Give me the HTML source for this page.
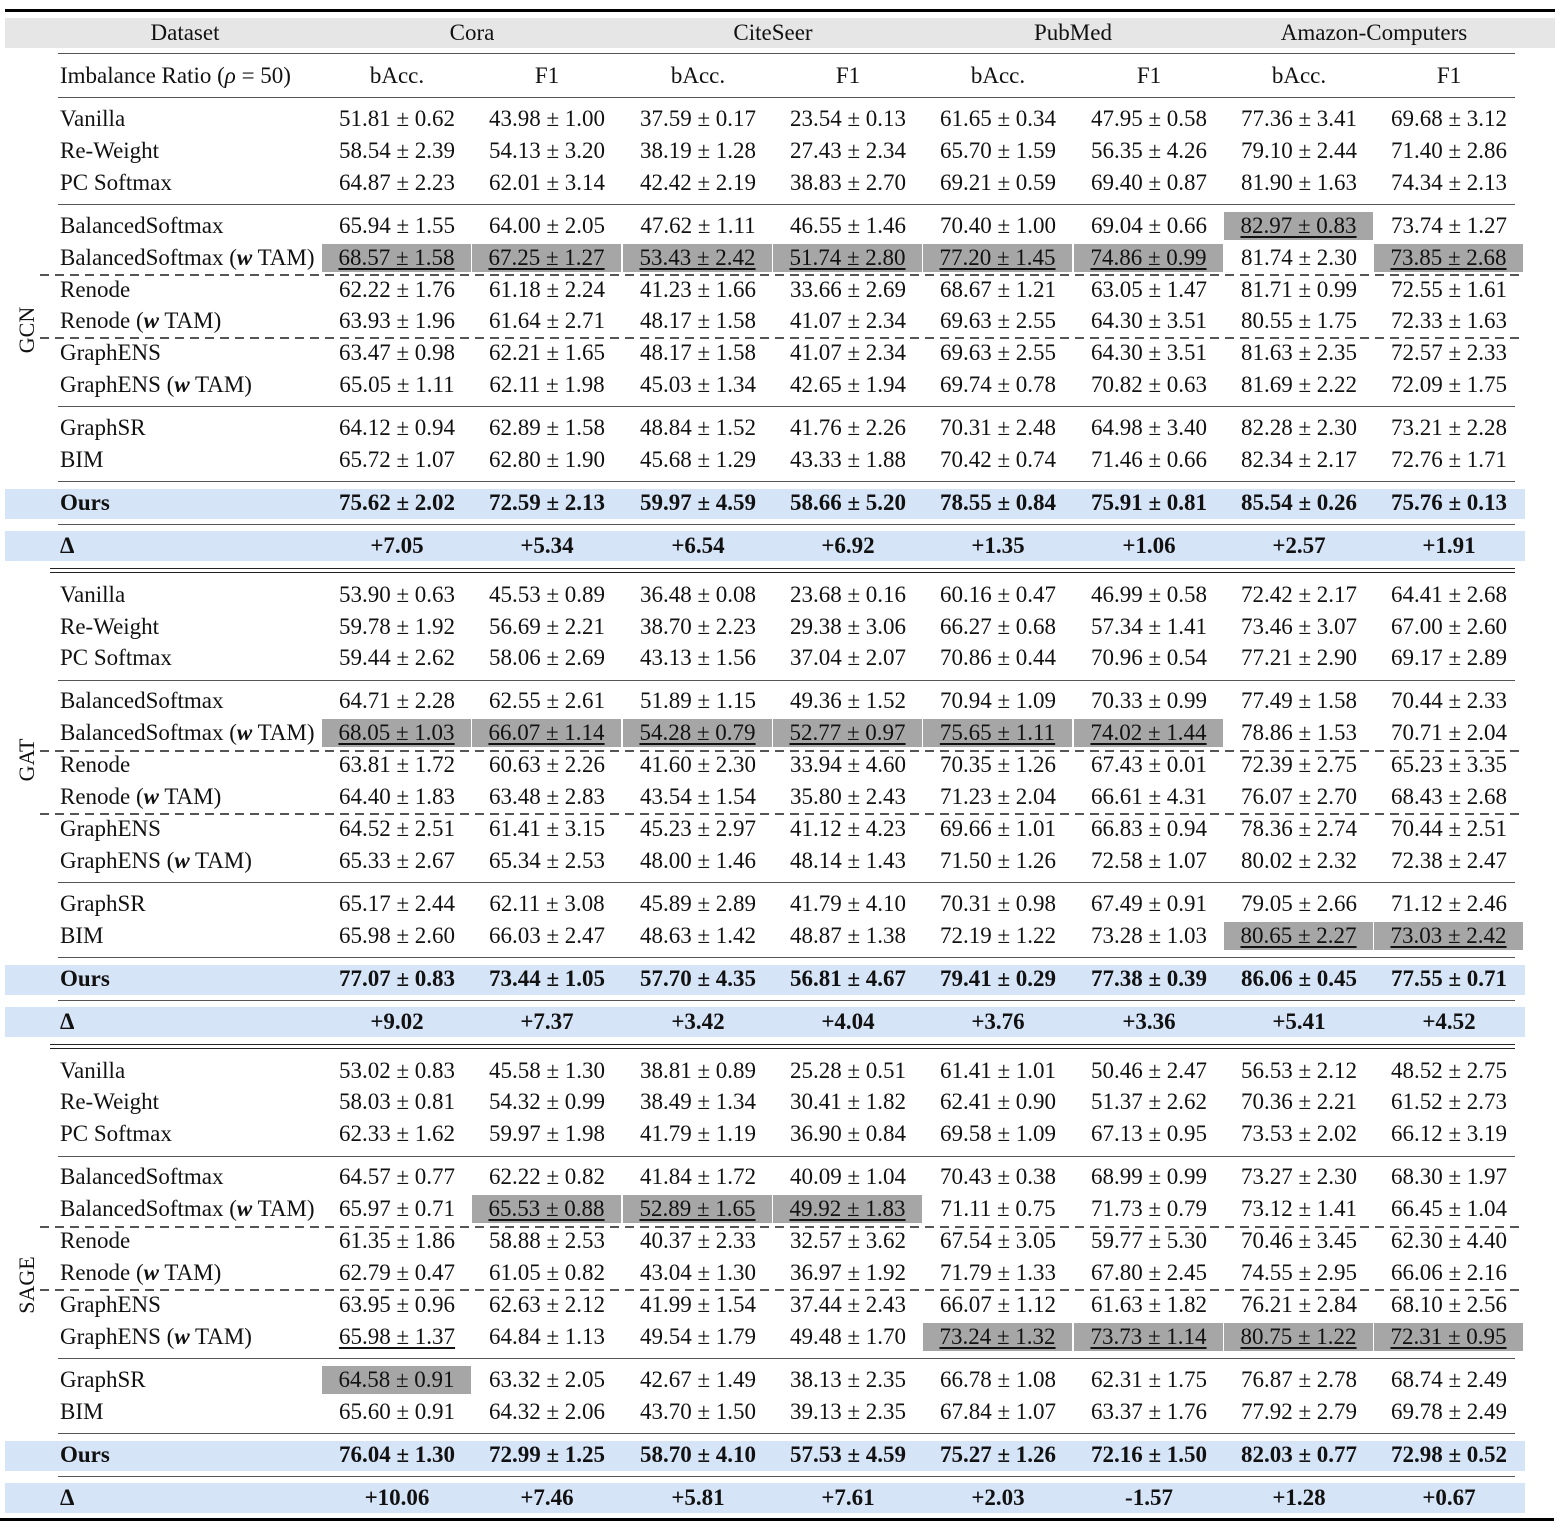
<!DOCTYPE html>
<html><head><meta charset="utf-8"><style>
body{margin:0;background:#fff;width:1564px;height:1532px;position:relative;overflow:hidden;font-family:"Liberation Serif",serif;font-size:23px;color:#111}
.r{position:absolute;left:0;width:1564px;height:32px;line-height:32px;white-space:nowrap}
.r span{position:absolute;top:0;width:150px;text-align:center}
.r span:nth-child(1){left:60px;width:auto;text-align:left}
.r span:nth-child(2){left:322px}.r span:nth-child(3){left:472px}.r span:nth-child(4){left:623px}.r span:nth-child(5){left:773px}
.r span:nth-child(6){left:923px}.r span:nth-child(7){left:1074px}.r span:nth-child(8){left:1224px}.r span:nth-child(9){left:1374px}
.r span.g{background:#a6a6a6;top:2px;height:28px;line-height:28px;width:149px;text-decoration:underline;text-underline-offset:3px}
.u{text-decoration:underline;text-underline-offset:3px}
.b{font-weight:bold}
.s{position:absolute;left:58px;width:1457px;border-top:1.5px solid #555}
.d{position:absolute;left:40px;width:1485px;height:1.5px;background:repeating-linear-gradient(90deg,#555 0 9px,transparent 9px 15px)}
.band{position:absolute;left:5px;width:1520px;height:30px;background:#d6e4f8}
.k{position:absolute;left:5px;width:1550px;height:3px;background:#000}
.k2{position:absolute;left:50px;width:1465px;border-top:1.5px solid #222}
.grp{position:absolute;left:27px;transform:translate(-50%,-50%) rotate(-90deg);font-size:22px}
.hd{position:absolute;text-align:center;width:300px}
</style></head><body>
<div class="k" style="top:9px"></div>
<div style="position:absolute;left:5px;top:18px;width:1550px;height:30px;background:#e6e6e6"></div>
<div class="r" style="top:17px"><span style="left:60px;width:250px;text-align:center">Dataset</span></div>
<div class="hd" style="left:322px;top:17px;line-height:32px">Cora</div>
<div class="hd" style="left:623px;top:17px;line-height:32px">CiteSeer</div>
<div class="hd" style="left:923px;top:17px;line-height:32px">PubMed</div>
<div class="hd" style="left:1224px;top:17px;line-height:32px">Amazon-Computers</div>
<div class="s" style="top:53px"></div>
<div class="r" style="top:60px"><span>Imbalance Ratio (<i>ρ</i> = 50)</span><span>bAcc.</span><span>F1</span><span>bAcc.</span><span>F1</span><span>bAcc.</span><span>F1</span><span>bAcc.</span><span>F1</span></div>
<div class="s" style="top:97px"></div>

<!-- GCN B=119 -->
<div class="grp" style="top:330px">GCN</div>
<div class="s" style="top:204px"></div><div class="d" style="top:274px"></div><div class="d" style="top:337px"></div><div class="s" style="top:406px"></div><div class="s" style="top:481px"></div>
<div class="band" style="top:489px"></div><div class="s" style="top:524px"></div><div class="band" style="top:531px"></div>
<div class="k2" style="top:568px"></div><div class="k2" style="top:572px"></div>
<div class="r" style="top:103px"><span>Vanilla</span><span>51.81 ± 0.62</span><span>43.98 ± 1.00</span><span>37.59 ± 0.17</span><span>23.54 ± 0.13</span><span>61.65 ± 0.34</span><span>47.95 ± 0.58</span><span>77.36 ± 3.41</span><span>69.68 ± 3.12</span></div>
<div class="r" style="top:135px"><span>Re-Weight</span><span>58.54 ± 2.39</span><span>54.13 ± 3.20</span><span>38.19 ± 1.28</span><span>27.43 ± 2.34</span><span>65.70 ± 1.59</span><span>56.35 ± 4.26</span><span>79.10 ± 2.44</span><span>71.40 ± 2.86</span></div>
<div class="r" style="top:167px"><span>PC Softmax</span><span>64.87 ± 2.23</span><span>62.01 ± 3.14</span><span>42.42 ± 2.19</span><span>38.83 ± 2.70</span><span>69.21 ± 0.59</span><span>69.40 ± 0.87</span><span>81.90 ± 1.63</span><span>74.34 ± 2.13</span></div>
<div class="r" style="top:210px"><span>BalancedSoftmax</span><span>65.94 ± 1.55</span><span>64.00 ± 2.05</span><span>47.62 ± 1.11</span><span>46.55 ± 1.46</span><span>70.40 ± 1.00</span><span>69.04 ± 0.66</span><span class="g">82.97 ± 0.83</span><span>73.74 ± 1.27</span></div>
<div class="r" style="top:242px"><span>BalancedSoftmax (<b><i>w</i></b> TAM)</span><span class="g">68.57 ± 1.58</span><span class="g">67.25 ± 1.27</span><span class="g">53.43 ± 2.42</span><span class="g">51.74 ± 2.80</span><span class="g">77.20 ± 1.45</span><span class="g">74.86 ± 0.99</span><span>81.74 ± 2.30</span><span class="g">73.85 ± 2.68</span></div>
<div class="r" style="top:274px"><span>Renode</span><span>62.22 ± 1.76</span><span>61.18 ± 2.24</span><span>41.23 ± 1.66</span><span>33.66 ± 2.69</span><span>68.67 ± 1.21</span><span>63.05 ± 1.47</span><span>81.71 ± 0.99</span><span>72.55 ± 1.61</span></div>
<div class="r" style="top:305px"><span>Renode (<b><i>w</i></b> TAM)</span><span>63.93 ± 1.96</span><span>61.64 ± 2.71</span><span>48.17 ± 1.58</span><span>41.07 ± 2.34</span><span>69.63 ± 2.55</span><span>64.30 ± 3.51</span><span>80.55 ± 1.75</span><span>72.33 ± 1.63</span></div>
<div class="r" style="top:337px"><span>GraphENS</span><span>63.47 ± 0.98</span><span>62.21 ± 1.65</span><span>48.17 ± 1.58</span><span>41.07 ± 2.34</span><span>69.63 ± 2.55</span><span>64.30 ± 3.51</span><span>81.63 ± 2.35</span><span>72.57 ± 2.33</span></div>
<div class="r" style="top:369px"><span>GraphENS (<b><i>w</i></b> TAM)</span><span>65.05 ± 1.11</span><span>62.11 ± 1.98</span><span>45.03 ± 1.34</span><span>42.65 ± 1.94</span><span>69.74 ± 0.78</span><span>70.82 ± 0.63</span><span>81.69 ± 2.22</span><span>72.09 ± 1.75</span></div>
<div class="r" style="top:412px"><span>GraphSR</span><span>64.12 ± 0.94</span><span>62.89 ± 1.58</span><span>48.84 ± 1.52</span><span>41.76 ± 2.26</span><span>70.31 ± 2.48</span><span>64.98 ± 3.40</span><span>82.28 ± 2.30</span><span>73.21 ± 2.28</span></div>
<div class="r" style="top:444px"><span>BIM</span><span>65.72 ± 1.07</span><span>62.80 ± 1.90</span><span>45.68 ± 1.29</span><span>43.33 ± 1.88</span><span>70.42 ± 0.74</span><span>71.46 ± 0.66</span><span>82.34 ± 2.17</span><span>72.76 ± 1.71</span></div>
<div class="r b" style="top:487px"><span>Ours</span><span>75.62 ± 2.02</span><span>72.59 ± 2.13</span><span>59.97 ± 4.59</span><span>58.66 ± 5.20</span><span>78.55 ± 0.84</span><span>75.91 ± 0.81</span><span>85.54 ± 0.26</span><span>75.76 ± 0.13</span></div>
<div class="r b" style="top:530px"><span>Δ</span><span>+7.05</span><span>+5.34</span><span>+6.54</span><span>+6.92</span><span>+1.35</span><span>+1.06</span><span>+2.57</span><span>+1.91</span></div>

<!-- GAT B=595 -->
<div class="grp" style="top:760px">GAT</div>
<div class="s" style="top:680px"></div><div class="d" style="top:750px"></div><div class="d" style="top:813px"></div><div class="s" style="top:882px"></div><div class="s" style="top:957px"></div>
<div class="band" style="top:965px"></div><div class="s" style="top:1000px"></div><div class="band" style="top:1007px"></div>
<div class="k2" style="top:1044px"></div><div class="k2" style="top:1048px"></div>
<div class="r" style="top:579px"><span>Vanilla</span><span>53.90 ± 0.63</span><span>45.53 ± 0.89</span><span>36.48 ± 0.08</span><span>23.68 ± 0.16</span><span>60.16 ± 0.47</span><span>46.99 ± 0.58</span><span>72.42 ± 2.17</span><span>64.41 ± 2.68</span></div>
<div class="r" style="top:611px"><span>Re-Weight</span><span>59.78 ± 1.92</span><span>56.69 ± 2.21</span><span>38.70 ± 2.23</span><span>29.38 ± 3.06</span><span>66.27 ± 0.68</span><span>57.34 ± 1.41</span><span>73.46 ± 3.07</span><span>67.00 ± 2.60</span></div>
<div class="r" style="top:642px"><span>PC Softmax</span><span>59.44 ± 2.62</span><span>58.06 ± 2.69</span><span>43.13 ± 1.56</span><span>37.04 ± 2.07</span><span>70.86 ± 0.44</span><span>70.96 ± 0.54</span><span>77.21 ± 2.90</span><span>69.17 ± 2.89</span></div>
<div class="r" style="top:685px"><span>BalancedSoftmax</span><span>64.71 ± 2.28</span><span>62.55 ± 2.61</span><span>51.89 ± 1.15</span><span>49.36 ± 1.52</span><span>70.94 ± 1.09</span><span>70.33 ± 0.99</span><span>77.49 ± 1.58</span><span>70.44 ± 2.33</span></div>
<div class="r" style="top:717px"><span>BalancedSoftmax (<b><i>w</i></b> TAM)</span><span class="g">68.05 ± 1.03</span><span class="g">66.07 ± 1.14</span><span class="g">54.28 ± 0.79</span><span class="g">52.77 ± 0.97</span><span class="g">75.65 ± 1.11</span><span class="g">74.02 ± 1.44</span><span>78.86 ± 1.53</span><span>70.71 ± 2.04</span></div>
<div class="r" style="top:749px"><span>Renode</span><span>63.81 ± 1.72</span><span>60.63 ± 2.26</span><span>41.60 ± 2.30</span><span>33.94 ± 4.60</span><span>70.35 ± 1.26</span><span>67.43 ± 0.01</span><span>72.39 ± 2.75</span><span>65.23 ± 3.35</span></div>
<div class="r" style="top:781px"><span>Renode (<b><i>w</i></b> TAM)</span><span>64.40 ± 1.83</span><span>63.48 ± 2.83</span><span>43.54 ± 1.54</span><span>35.80 ± 2.43</span><span>71.23 ± 2.04</span><span>66.61 ± 4.31</span><span>76.07 ± 2.70</span><span>68.43 ± 2.68</span></div>
<div class="r" style="top:813px"><span>GraphENS</span><span>64.52 ± 2.51</span><span>61.41 ± 3.15</span><span>45.23 ± 2.97</span><span>41.12 ± 4.23</span><span>69.66 ± 1.01</span><span>66.83 ± 0.94</span><span>78.36 ± 2.74</span><span>70.44 ± 2.51</span></div>
<div class="r" style="top:845px"><span>GraphENS (<b><i>w</i></b> TAM)</span><span>65.33 ± 2.67</span><span>65.34 ± 2.53</span><span>48.00 ± 1.46</span><span>48.14 ± 1.43</span><span>71.50 ± 1.26</span><span>72.58 ± 1.07</span><span>80.02 ± 2.32</span><span>72.38 ± 2.47</span></div>
<div class="r" style="top:888px"><span>GraphSR</span><span>65.17 ± 2.44</span><span>62.11 ± 3.08</span><span>45.89 ± 2.89</span><span>41.79 ± 4.10</span><span>70.31 ± 0.98</span><span>67.49 ± 0.91</span><span>79.05 ± 2.66</span><span>71.12 ± 2.46</span></div>
<div class="r" style="top:920px"><span>BIM</span><span>65.98 ± 2.60</span><span>66.03 ± 2.47</span><span>48.63 ± 1.42</span><span>48.87 ± 1.38</span><span>72.19 ± 1.22</span><span>73.28 ± 1.03</span><span class="g">80.65 ± 2.27</span><span class="g">73.03 ± 2.42</span></div>
<div class="r b" style="top:963px"><span>Ours</span><span>77.07 ± 0.83</span><span>73.44 ± 1.05</span><span>57.70 ± 4.35</span><span>56.81 ± 4.67</span><span>79.41 ± 0.29</span><span>77.38 ± 0.39</span><span>86.06 ± 0.45</span><span>77.55 ± 0.71</span></div>
<div class="r b" style="top:1006px"><span>Δ</span><span>+9.02</span><span>+7.37</span><span>+3.42</span><span>+4.04</span><span>+3.76</span><span>+3.36</span><span>+5.41</span><span>+4.52</span></div>

<!-- SAGE B=1071 -->
<div class="grp" style="top:1285px">SAGE</div>
<div class="s" style="top:1156px"></div><div class="d" style="top:1226px"></div><div class="d" style="top:1289px"></div><div class="s" style="top:1358px"></div><div class="s" style="top:1433px"></div>
<div class="band" style="top:1441px"></div><div class="s" style="top:1476px"></div><div class="band" style="top:1483px"></div>
<div class="k" style="top:1518px;left:0;width:1554px"></div>
<div class="r" style="top:1055px"><span>Vanilla</span><span>53.02 ± 0.83</span><span>45.58 ± 1.30</span><span>38.81 ± 0.89</span><span>25.28 ± 0.51</span><span>61.41 ± 1.01</span><span>50.46 ± 2.47</span><span>56.53 ± 2.12</span><span>48.52 ± 2.75</span></div>
<div class="r" style="top:1086px"><span>Re-Weight</span><span>58.03 ± 0.81</span><span>54.32 ± 0.99</span><span>38.49 ± 1.34</span><span>30.41 ± 1.82</span><span>62.41 ± 0.90</span><span>51.37 ± 2.62</span><span>70.36 ± 2.21</span><span>61.52 ± 2.73</span></div>
<div class="r" style="top:1118px"><span>PC Softmax</span><span>62.33 ± 1.62</span><span>59.97 ± 1.98</span><span>41.79 ± 1.19</span><span>36.90 ± 0.84</span><span>69.58 ± 1.09</span><span>67.13 ± 0.95</span><span>73.53 ± 2.02</span><span>66.12 ± 3.19</span></div>
<div class="r" style="top:1161px"><span>BalancedSoftmax</span><span>64.57 ± 0.77</span><span>62.22 ± 0.82</span><span>41.84 ± 1.72</span><span>40.09 ± 1.04</span><span>70.43 ± 0.38</span><span>68.99 ± 0.99</span><span>73.27 ± 2.30</span><span>68.30 ± 1.97</span></div>
<div class="r" style="top:1193px"><span>BalancedSoftmax (<b><i>w</i></b> TAM)</span><span>65.97 ± 0.71</span><span class="g">65.53 ± 0.88</span><span class="g">52.89 ± 1.65</span><span class="g">49.92 ± 1.83</span><span>71.11 ± 0.75</span><span>71.73 ± 0.79</span><span>73.12 ± 1.41</span><span>66.45 ± 1.04</span></div>
<div class="r" style="top:1225px"><span>Renode</span><span>61.35 ± 1.86</span><span>58.88 ± 2.53</span><span>40.37 ± 2.33</span><span>32.57 ± 3.62</span><span>67.54 ± 3.05</span><span>59.77 ± 5.30</span><span>70.46 ± 3.45</span><span>62.30 ± 4.40</span></div>
<div class="r" style="top:1257px"><span>Renode (<b><i>w</i></b> TAM)</span><span>62.79 ± 0.47</span><span>61.05 ± 0.82</span><span>43.04 ± 1.30</span><span>36.97 ± 1.92</span><span>71.79 ± 1.33</span><span>67.80 ± 2.45</span><span>74.55 ± 2.95</span><span>66.06 ± 2.16</span></div>
<div class="r" style="top:1289px"><span>GraphENS</span><span>63.95 ± 0.96</span><span>62.63 ± 2.12</span><span>41.99 ± 1.54</span><span>37.44 ± 2.43</span><span>66.07 ± 1.12</span><span>61.63 ± 1.82</span><span>76.21 ± 2.84</span><span>68.10 ± 2.56</span></div>
<div class="r" style="top:1321px"><span>GraphENS (<b><i>w</i></b> TAM)</span><span><u class="u">65.98 ± 1.37</u></span><span>64.84 ± 1.13</span><span>49.54 ± 1.79</span><span>49.48 ± 1.70</span><span class="g">73.24 ± 1.32</span><span class="g">73.73 ± 1.14</span><span class="g">80.75 ± 1.22</span><span class="g">72.31 ± 0.95</span></div>
<div class="r" style="top:1364px"><span>GraphSR</span><span class="g" style="text-decoration:none">64.58 ± 0.91</span><span>63.32 ± 2.05</span><span>42.67 ± 1.49</span><span>38.13 ± 2.35</span><span>66.78 ± 1.08</span><span>62.31 ± 1.75</span><span>76.87 ± 2.78</span><span>68.74 ± 2.49</span></div>
<div class="r" style="top:1396px"><span>BIM</span><span>65.60 ± 0.91</span><span>64.32 ± 2.06</span><span>43.70 ± 1.50</span><span>39.13 ± 2.35</span><span>67.84 ± 1.07</span><span>63.37 ± 1.76</span><span>77.92 ± 2.79</span><span>69.78 ± 2.49</span></div>
<div class="r b" style="top:1439px"><span>Ours</span><span>76.04 ± 1.30</span><span>72.99 ± 1.25</span><span>58.70 ± 4.10</span><span>57.53 ± 4.59</span><span>75.27 ± 1.26</span><span>72.16 ± 1.50</span><span>82.03 ± 0.77</span><span>72.98 ± 0.52</span></div>
<div class="r b" style="top:1482px"><span>Δ</span><span>+10.06</span><span>+7.46</span><span>+5.81</span><span>+7.61</span><span>+2.03</span><span>-1.57</span><span>+1.28</span><span>+0.67</span></div>
</body></html>
